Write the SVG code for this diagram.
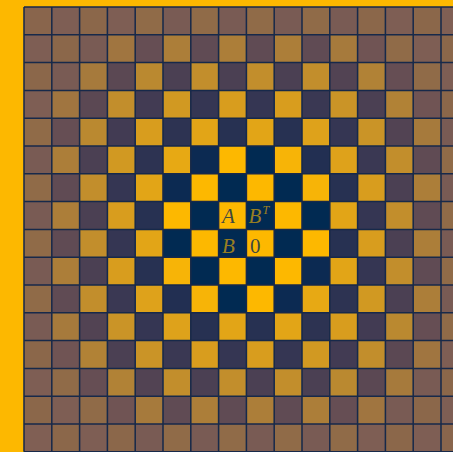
<svg xmlns="http://www.w3.org/2000/svg" width="453" height="452" viewBox="0 0 453 452">
<style>
.y0{fill:#FDB800}.y1{fill:#F7B407}.y2{fill:#E7A914}.y3{fill:#E2A517}.y4{fill:#DEA21B}.y5{fill:#D89D1E}.y6{fill:#D19922}.y7{fill:#CA9427}.y8{fill:#C28E2C}.y9{fill:#BA8930}.y10{fill:#B18236}.y11{fill:#AC7E39}.y12{fill:#A67A3C}.y13{fill:#A07540}.y14{fill:#906B48}.y15{fill:#8B674A}.y16{fill:#89654C}
.n0{fill:#012A52}.n1{fill:#0C2A52}.n2{fill:#222F52}.n3{fill:#273152}.n4{fill:#2D3352}.n5{fill:#353653}.n6{fill:#3A3853}.n7{fill:#423B53}.n8{fill:#4B4053}.n9{fill:#524353}.n10{fill:#5B4853}.n11{fill:#604B54}.n12{fill:#664E54}.n13{fill:#705454}.n14{fill:#795B54}.n15{fill:#7E5E54}.n16{fill:#805F54}
.grid{fill:none;stroke:#17294A;stroke-width:0.055}
.lbl{font-family:"Liberation Serif","DejaVu Serif",serif;font-style:italic;font-size:21px}
.ony{fill:#0B2A50;fill-opacity:0.8}
.onn{fill:#FDB800;fill-opacity:0.62}
</style>
<rect x="0" y="0" width="453" height="452" fill="#FDB800"/>
<g id="board" transform="translate(24 7) scale(27.8)">
<g id="row0"><rect x="0" y="0" width="1" height="1" class="y16"/><rect x="1" y="0" width="1" height="1" class="n15"/><rect x="2" y="0" width="1" height="1" class="y15"/><rect x="3" y="0" width="1" height="1" class="n15"/><rect x="4" y="0" width="1" height="1" class="y14"/><rect x="5" y="0" width="1" height="1" class="n14"/><rect x="6" y="0" width="1" height="1" class="y14"/><rect x="7" y="0" width="1" height="1" class="n14"/><rect x="8" y="0" width="1" height="1" class="y14"/><rect x="9" y="0" width="1" height="1" class="n14"/><rect x="10" y="0" width="1" height="1" class="y14"/><rect x="11" y="0" width="1" height="1" class="n14"/><rect x="12" y="0" width="1" height="1" class="y15"/><rect x="13" y="0" width="1" height="1" class="n15"/><rect x="14" y="0" width="1" height="1" class="y15"/><rect x="15" y="0" width="1" height="1" class="n16"/></g>
<g id="row1"><rect x="0" y="1" width="1" height="1" class="n15"/><rect x="1" y="1" width="1" height="1" class="y15"/><rect x="2" y="1" width="1" height="1" class="n14"/><rect x="3" y="1" width="1" height="1" class="y13"/><rect x="4" y="1" width="1" height="1" class="n12"/><rect x="5" y="1" width="1" height="1" class="y11"/><rect x="6" y="1" width="1" height="1" class="n11"/><rect x="7" y="1" width="1" height="1" class="y11"/><rect x="8" y="1" width="1" height="1" class="n11"/><rect x="9" y="1" width="1" height="1" class="y11"/><rect x="10" y="1" width="1" height="1" class="n11"/><rect x="11" y="1" width="1" height="1" class="y12"/><rect x="12" y="1" width="1" height="1" class="n13"/><rect x="13" y="1" width="1" height="1" class="y14"/><rect x="14" y="1" width="1" height="1" class="n15"/><rect x="15" y="1" width="1" height="1" class="y15"/></g>
<g id="row2"><rect x="0" y="2" width="1" height="1" class="y15"/><rect x="1" y="2" width="1" height="1" class="n14"/><rect x="2" y="2" width="1" height="1" class="y12"/><rect x="3" y="2" width="1" height="1" class="n10"/><rect x="4" y="2" width="1" height="1" class="y9"/><rect x="5" y="2" width="1" height="1" class="n8"/><rect x="6" y="2" width="1" height="1" class="y8"/><rect x="7" y="2" width="1" height="1" class="n8"/><rect x="8" y="2" width="1" height="1" class="y8"/><rect x="9" y="2" width="1" height="1" class="n8"/><rect x="10" y="2" width="1" height="1" class="y8"/><rect x="11" y="2" width="1" height="1" class="n9"/><rect x="12" y="2" width="1" height="1" class="y10"/><rect x="13" y="2" width="1" height="1" class="n12"/><rect x="14" y="2" width="1" height="1" class="y14"/><rect x="15" y="2" width="1" height="1" class="n15"/></g>
<g id="row3"><rect x="0" y="3" width="1" height="1" class="n15"/><rect x="1" y="3" width="1" height="1" class="y13"/><rect x="2" y="3" width="1" height="1" class="n10"/><rect x="3" y="3" width="1" height="1" class="y8"/><rect x="4" y="3" width="1" height="1" class="n7"/><rect x="5" y="3" width="1" height="1" class="y6"/><rect x="6" y="3" width="1" height="1" class="n5"/><rect x="7" y="3" width="1" height="1" class="y5"/><rect x="8" y="3" width="1" height="1" class="n5"/><rect x="9" y="3" width="1" height="1" class="y5"/><rect x="10" y="3" width="1" height="1" class="n6"/><rect x="11" y="3" width="1" height="1" class="y7"/><rect x="12" y="3" width="1" height="1" class="n8"/><rect x="13" y="3" width="1" height="1" class="y10"/><rect x="14" y="3" width="1" height="1" class="n13"/><rect x="15" y="3" width="1" height="1" class="y15"/></g>
<g id="row4"><rect x="0" y="4" width="1" height="1" class="y14"/><rect x="1" y="4" width="1" height="1" class="n12"/><rect x="2" y="4" width="1" height="1" class="y9"/><rect x="3" y="4" width="1" height="1" class="n7"/><rect x="4" y="4" width="1" height="1" class="y5"/><rect x="5" y="4" width="1" height="1" class="n4"/><rect x="6" y="4" width="1" height="1" class="y3"/><rect x="7" y="4" width="1" height="1" class="n3"/><rect x="8" y="4" width="1" height="1" class="y3"/><rect x="9" y="4" width="1" height="1" class="n3"/><rect x="10" y="4" width="1" height="1" class="y4"/><rect x="11" y="4" width="1" height="1" class="n5"/><rect x="12" y="4" width="1" height="1" class="y7"/><rect x="13" y="4" width="1" height="1" class="n9"/><rect x="14" y="4" width="1" height="1" class="y12"/><rect x="15" y="4" width="1" height="1" class="n14"/></g>
<g id="row5"><rect x="0" y="5" width="1" height="1" class="n14"/><rect x="1" y="5" width="1" height="1" class="y11"/><rect x="2" y="5" width="1" height="1" class="n8"/><rect x="3" y="5" width="1" height="1" class="y6"/><rect x="4" y="5" width="1" height="1" class="n4"/><rect x="5" y="5" width="1" height="1" class="y2"/><rect x="6" y="5" width="1" height="1" class="n1"/><rect x="7" y="5" width="1" height="1" class="y0"/><rect x="8" y="5" width="1" height="1" class="n0"/><rect x="9" y="5" width="1" height="1" class="y1"/><rect x="10" y="5" width="1" height="1" class="n2"/><rect x="11" y="5" width="1" height="1" class="y4"/><rect x="12" y="5" width="1" height="1" class="n6"/><rect x="13" y="5" width="1" height="1" class="y8"/><rect x="14" y="5" width="1" height="1" class="n11"/><rect x="15" y="5" width="1" height="1" class="y14"/></g>
<g id="row6"><rect x="0" y="6" width="1" height="1" class="y14"/><rect x="1" y="6" width="1" height="1" class="n11"/><rect x="2" y="6" width="1" height="1" class="y8"/><rect x="3" y="6" width="1" height="1" class="n5"/><rect x="4" y="6" width="1" height="1" class="y3"/><rect x="5" y="6" width="1" height="1" class="n1"/><rect x="6" y="6" width="1" height="1" class="y0"/><rect x="7" y="6" width="1" height="1" class="n0"/><rect x="8" y="6" width="1" height="1" class="y0"/><rect x="9" y="6" width="1" height="1" class="n0"/><rect x="10" y="6" width="1" height="1" class="y1"/><rect x="11" y="6" width="1" height="1" class="n3"/><rect x="12" y="6" width="1" height="1" class="y5"/><rect x="13" y="6" width="1" height="1" class="n8"/><rect x="14" y="6" width="1" height="1" class="y11"/><rect x="15" y="6" width="1" height="1" class="n14"/></g>
<g id="row7"><rect x="0" y="7" width="1" height="1" class="n14"/><rect x="1" y="7" width="1" height="1" class="y11"/><rect x="2" y="7" width="1" height="1" class="n8"/><rect x="3" y="7" width="1" height="1" class="y5"/><rect x="4" y="7" width="1" height="1" class="n3"/><rect x="5" y="7" width="1" height="1" class="y0"/><rect x="6" y="7" width="1" height="1" class="n0"/><rect x="7" y="7" width="1" height="1" class="y0"/><rect x="8" y="7" width="1" height="1" class="n0"/><rect x="9" y="7" width="1" height="1" class="y0"/><rect x="10" y="7" width="1" height="1" class="n0"/><rect x="11" y="7" width="1" height="1" class="y3"/><rect x="12" y="7" width="1" height="1" class="n5"/><rect x="13" y="7" width="1" height="1" class="y8"/><rect x="14" y="7" width="1" height="1" class="n11"/><rect x="15" y="7" width="1" height="1" class="y14"/></g>
<g id="row8"><rect x="0" y="8" width="1" height="1" class="y14"/><rect x="1" y="8" width="1" height="1" class="n11"/><rect x="2" y="8" width="1" height="1" class="y8"/><rect x="3" y="8" width="1" height="1" class="n5"/><rect x="4" y="8" width="1" height="1" class="y3"/><rect x="5" y="8" width="1" height="1" class="n0"/><rect x="6" y="8" width="1" height="1" class="y0"/><rect x="7" y="8" width="1" height="1" class="n0"/><rect x="8" y="8" width="1" height="1" class="y0"/><rect x="9" y="8" width="1" height="1" class="n0"/><rect x="10" y="8" width="1" height="1" class="y0"/><rect x="11" y="8" width="1" height="1" class="n3"/><rect x="12" y="8" width="1" height="1" class="y5"/><rect x="13" y="8" width="1" height="1" class="n8"/><rect x="14" y="8" width="1" height="1" class="y11"/><rect x="15" y="8" width="1" height="1" class="n14"/></g>
<g id="row9"><rect x="0" y="9" width="1" height="1" class="n14"/><rect x="1" y="9" width="1" height="1" class="y11"/><rect x="2" y="9" width="1" height="1" class="n8"/><rect x="3" y="9" width="1" height="1" class="y5"/><rect x="4" y="9" width="1" height="1" class="n3"/><rect x="5" y="9" width="1" height="1" class="y1"/><rect x="6" y="9" width="1" height="1" class="n0"/><rect x="7" y="9" width="1" height="1" class="y0"/><rect x="8" y="9" width="1" height="1" class="n0"/><rect x="9" y="9" width="1" height="1" class="y0"/><rect x="10" y="9" width="1" height="1" class="n1"/><rect x="11" y="9" width="1" height="1" class="y3"/><rect x="12" y="9" width="1" height="1" class="n5"/><rect x="13" y="9" width="1" height="1" class="y8"/><rect x="14" y="9" width="1" height="1" class="n11"/><rect x="15" y="9" width="1" height="1" class="y14"/></g>
<g id="row10"><rect x="0" y="10" width="1" height="1" class="y14"/><rect x="1" y="10" width="1" height="1" class="n11"/><rect x="2" y="10" width="1" height="1" class="y8"/><rect x="3" y="10" width="1" height="1" class="n6"/><rect x="4" y="10" width="1" height="1" class="y4"/><rect x="5" y="10" width="1" height="1" class="n2"/><rect x="6" y="10" width="1" height="1" class="y1"/><rect x="7" y="10" width="1" height="1" class="n0"/><rect x="8" y="10" width="1" height="1" class="y0"/><rect x="9" y="10" width="1" height="1" class="n1"/><rect x="10" y="10" width="1" height="1" class="y2"/><rect x="11" y="10" width="1" height="1" class="n4"/><rect x="12" y="10" width="1" height="1" class="y6"/><rect x="13" y="10" width="1" height="1" class="n8"/><rect x="14" y="10" width="1" height="1" class="y11"/><rect x="15" y="10" width="1" height="1" class="n14"/></g>
<g id="row11"><rect x="0" y="11" width="1" height="1" class="n14"/><rect x="1" y="11" width="1" height="1" class="y12"/><rect x="2" y="11" width="1" height="1" class="n9"/><rect x="3" y="11" width="1" height="1" class="y7"/><rect x="4" y="11" width="1" height="1" class="n5"/><rect x="5" y="11" width="1" height="1" class="y4"/><rect x="6" y="11" width="1" height="1" class="n3"/><rect x="7" y="11" width="1" height="1" class="y3"/><rect x="8" y="11" width="1" height="1" class="n3"/><rect x="9" y="11" width="1" height="1" class="y3"/><rect x="10" y="11" width="1" height="1" class="n4"/><rect x="11" y="11" width="1" height="1" class="y5"/><rect x="12" y="11" width="1" height="1" class="n7"/><rect x="13" y="11" width="1" height="1" class="y9"/><rect x="14" y="11" width="1" height="1" class="n12"/><rect x="15" y="11" width="1" height="1" class="y14"/></g>
<g id="row12"><rect x="0" y="12" width="1" height="1" class="y15"/><rect x="1" y="12" width="1" height="1" class="n13"/><rect x="2" y="12" width="1" height="1" class="y10"/><rect x="3" y="12" width="1" height="1" class="n8"/><rect x="4" y="12" width="1" height="1" class="y7"/><rect x="5" y="12" width="1" height="1" class="n6"/><rect x="6" y="12" width="1" height="1" class="y5"/><rect x="7" y="12" width="1" height="1" class="n5"/><rect x="8" y="12" width="1" height="1" class="y5"/><rect x="9" y="12" width="1" height="1" class="n5"/><rect x="10" y="12" width="1" height="1" class="y6"/><rect x="11" y="12" width="1" height="1" class="n7"/><rect x="12" y="12" width="1" height="1" class="y8"/><rect x="13" y="12" width="1" height="1" class="n10"/><rect x="14" y="12" width="1" height="1" class="y13"/><rect x="15" y="12" width="1" height="1" class="n15"/></g>
<g id="row13"><rect x="0" y="13" width="1" height="1" class="n15"/><rect x="1" y="13" width="1" height="1" class="y14"/><rect x="2" y="13" width="1" height="1" class="n12"/><rect x="3" y="13" width="1" height="1" class="y10"/><rect x="4" y="13" width="1" height="1" class="n9"/><rect x="5" y="13" width="1" height="1" class="y8"/><rect x="6" y="13" width="1" height="1" class="n8"/><rect x="7" y="13" width="1" height="1" class="y8"/><rect x="8" y="13" width="1" height="1" class="n8"/><rect x="9" y="13" width="1" height="1" class="y8"/><rect x="10" y="13" width="1" height="1" class="n8"/><rect x="11" y="13" width="1" height="1" class="y9"/><rect x="12" y="13" width="1" height="1" class="n10"/><rect x="13" y="13" width="1" height="1" class="y12"/><rect x="14" y="13" width="1" height="1" class="n14"/><rect x="15" y="13" width="1" height="1" class="y15"/></g>
<g id="row14"><rect x="0" y="14" width="1" height="1" class="y15"/><rect x="1" y="14" width="1" height="1" class="n15"/><rect x="2" y="14" width="1" height="1" class="y14"/><rect x="3" y="14" width="1" height="1" class="n13"/><rect x="4" y="14" width="1" height="1" class="y12"/><rect x="5" y="14" width="1" height="1" class="n11"/><rect x="6" y="14" width="1" height="1" class="y11"/><rect x="7" y="14" width="1" height="1" class="n11"/><rect x="8" y="14" width="1" height="1" class="y11"/><rect x="9" y="14" width="1" height="1" class="n11"/><rect x="10" y="14" width="1" height="1" class="y11"/><rect x="11" y="14" width="1" height="1" class="n12"/><rect x="12" y="14" width="1" height="1" class="y13"/><rect x="13" y="14" width="1" height="1" class="n14"/><rect x="14" y="14" width="1" height="1" class="y15"/><rect x="15" y="14" width="1" height="1" class="n15"/></g>
<g id="row15"><rect x="0" y="15" width="1" height="1" class="n16"/><rect x="1" y="15" width="1" height="1" class="y15"/><rect x="2" y="15" width="1" height="1" class="n15"/><rect x="3" y="15" width="1" height="1" class="y15"/><rect x="4" y="15" width="1" height="1" class="n14"/><rect x="5" y="15" width="1" height="1" class="y14"/><rect x="6" y="15" width="1" height="1" class="n14"/><rect x="7" y="15" width="1" height="1" class="y14"/><rect x="8" y="15" width="1" height="1" class="n14"/><rect x="9" y="15" width="1" height="1" class="y14"/><rect x="10" y="15" width="1" height="1" class="n14"/><rect x="11" y="15" width="1" height="1" class="y14"/><rect x="12" y="15" width="1" height="1" class="n15"/><rect x="13" y="15" width="1" height="1" class="y15"/><rect x="14" y="15" width="1" height="1" class="n15"/><rect x="15" y="15" width="1" height="1" class="y16"/></g>
<path class="grid" d="M0 0V16M1 0V16M2 0V16M3 0V16M4 0V16M5 0V16M6 0V16M7 0V16M8 0V16M9 0V16M10 0V16M11 0V16M12 0V16M13 0V16M14 0V16M15 0V16M16 0V16M0 0H16M0 1H16M0 2H16M0 3H16M0 4H16M0 5H16M0 6H16M0 7H16M0 8H16M0 9H16M0 10H16M0 11H16M0 12H16M0 13H16M0 14H16M0 15H16M0 16H16"/>
</g>
<g id="labels" class="lbl">
<text x="222" y="223" class="ony">A</text>
<text x="248.5" y="223" class="onn">B</text>
<text x="262.5" y="213.5" class="onn" font-size="12">T</text>
<text x="222" y="252.5" class="onn">B</text>
<text x="250" y="252.5" class="ony" font-style="normal">0</text>
</g>
</svg>
